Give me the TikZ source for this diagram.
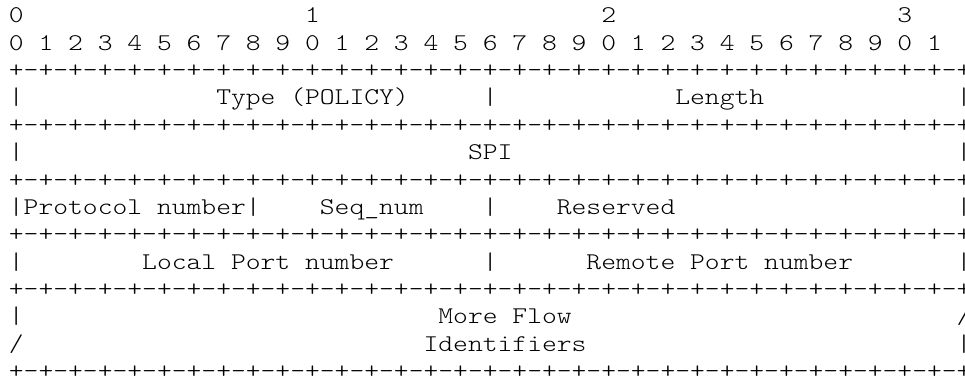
\documentclass[tikz,border=0pt]{standalone}
\usepackage{tikz}

% one row of the bit ruler, 32 fields
\newcommand{\fieldrule}{+-+-+-+-+-+-+-+-+-+-+-+-+-+-+-+-+-+-+-+-+-+-+-+-+-+-+-+-+-+-+-+-+}

\tikzset{
  ascii/.style={anchor=base west, inner sep=0pt, xscale=1.1754,
    font=\fontsize{18pt}{18pt}\fontseries{l}\ttfamily\selectfont},
}

\begin{document}
\begin{tikzpicture}[x=11.1075pt, y=-20.55pt]
  \useasboundingbox (-0.581,-0.825) rectangle (64.58,13.226);

  % bit numbers
  \node[ascii] (tens0) at (0,0) {0};
  \node[ascii] (tens1) at (20,0) {1};
  \node[ascii] (tens2) at (40,0) {2};
  \node[ascii] (tens3) at (60,0) {3};
  \node[ascii] (units) at (0,1) {0 1 2 3 4 5 6 7 8 9 0 1 2 3 4 5 6 7 8 9 0 1 2 3 4 5 6 7 8 9 0 1};

  % field borders
  \foreach \r in {2,4,6,8,10,13}
    \node[ascii] (rule\r) at (0,\r) {\fieldrule};

  % word 1: type and length
  \node[ascii] (bar3a) at (0,3) {|};
  \node[ascii] (type) at (14,3) {Type (POLICY)};
  \node[ascii] (bar3b) at (32,3) {|};
  \node[ascii] (length) at (45,3) {Length};
  \node[ascii] (bar3c) at (64,3) {|};

  % word 2: SPI
  \node[ascii] (bar5a) at (0,5) {|};
  \node[ascii] (spi) at (31,5) {SPI};
  \node[ascii] (bar5b) at (64,5) {|};

  % word 3: protocol, sequence number, reserved
  \node[ascii] (proto) at (0,7) {|Protocol number|};
  \node[ascii] (seqnum) at (21,7) {Seq\_num};
  \node[ascii] (bar7b) at (32,7) {|};
  \node[ascii] (reserved) at (37,7) {Reserved};
  \node[ascii] (bar7c) at (64,7) {|};

  % word 4: ports
  \node[ascii] (bar9a) at (0,9) {|};
  \node[ascii] (lport) at (9,9) {Local Port number};
  \node[ascii] (bar9b) at (32,9) {|};
  \node[ascii] (rport) at (39,9) {Remote Port number};
  \node[ascii] (bar9c) at (64,9) {|};

  % variable part
  \node[ascii] (bar11a) at (0,11) {|};
  \node[ascii] (moreflow) at (29,11) {More Flow};
  \node[ascii] (slash11) at (64,11) {/};
  \node[ascii] (slash12) at (0,12) {/};
  \node[ascii] (ident) at (28,12) {Identifiers};
  \node[ascii] (bar12) at (64,12) {|};
\end{tikzpicture}
\end{document}
